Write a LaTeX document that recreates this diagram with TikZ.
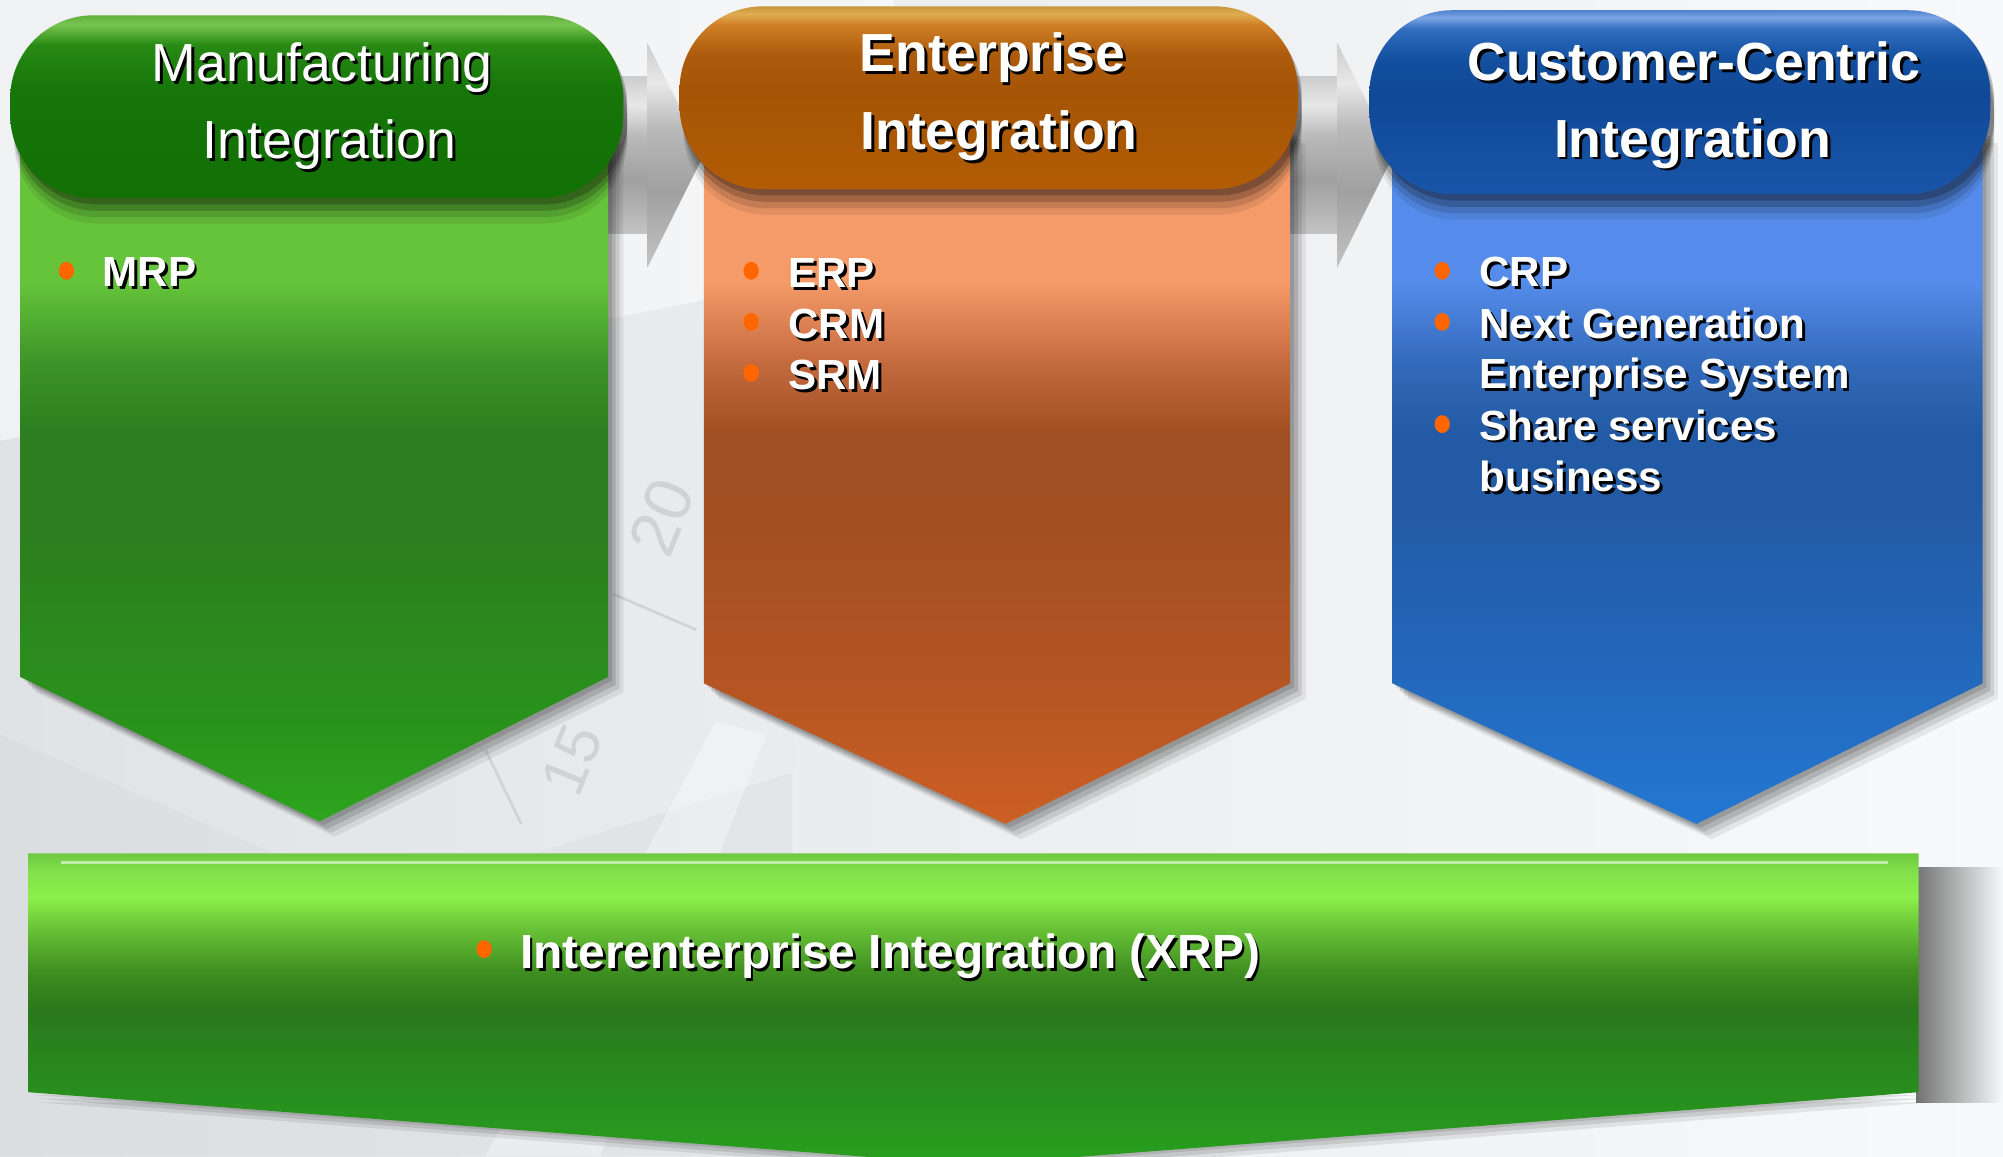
\documentclass[tikz,border=0pt]{standalone}
\usepackage{fontspec}
\setmainfont{Liberation Sans}
\usetikzlibrary{shapes.geometric}
% colours
\definecolor{bul}{RGB}{255,102,0}
\definecolor{gpA}{RGB}{18,112,5}\definecolor{gpB}{RGB}{22,118,8}\definecolor{gpC}{RGB}{40,138,20}\definecolor{gpD}{RGB}{120,198,80}\definecolor{gpE}{RGB}{95,175,60}
\definecolor{gbA}{RGB}{45,165,30}\definecolor{gbB}{RGB}{42,148,28}\definecolor{gbC}{RGB}{44,126,30}\definecolor{gbD}{RGB}{60,148,40}\definecolor{gbE}{RGB}{102,196,58}\definecolor{gbF}{RGB}{85,175,48}
\definecolor{opA}{RGB}{178,92,5}\definecolor{opB}{RGB}{165,85,5}\definecolor{opC}{RGB}{172,92,12}\definecolor{opD}{RGB}{208,128,38}\definecolor{opE}{RGB}{224,172,82}\definecolor{opF}{RGB}{200,150,60}
\definecolor{obA}{RGB}{205,95,35}\definecolor{obB}{RGB}{180,85,35}\definecolor{obC}{RGB}{160,78,35}\definecolor{obD}{RGB}{195,105,62}\definecolor{obE}{RGB}{245,155,105}\definecolor{obF}{RGB}{225,135,85}
\definecolor{bpA}{RGB}{25,85,168}\definecolor{bpB}{RGB}{15,72,150}\definecolor{bpC}{RGB}{20,80,160}\definecolor{bpD}{RGB}{50,110,192}\definecolor{bpE}{RGB}{125,165,228}\definecolor{bpF}{RGB}{80,130,205}
\definecolor{bbA}{RGB}{35,120,210}\definecolor{bbB}{RGB}{35,105,190}\definecolor{bbC}{RGB}{35,90,165}\definecolor{bbD}{RGB}{50,106,186}\definecolor{bbE}{RGB}{85,140,235}\definecolor{bbF}{RGB}{70,125,220}
\definecolor{xbA}{RGB}{40,160,30}\definecolor{xbB}{RGB}{40,140,30}\definecolor{xbC}{RGB}{42,120,28}\definecolor{xbD}{RGB}{62,142,32}\definecolor{xbE}{RGB}{105,195,55}\definecolor{xbF}{RGB}{140,240,75}\definecolor{xbG}{RGB}{130,225,75}\definecolor{xbH}{RGB}{110,200,65}
\definecolor{arA}{RGB}{195,195,195}\definecolor{arB}{RGB}{160,160,160}\definecolor{arC}{RGB}{185,185,185}\definecolor{arD}{RGB}{232,232,232}\definecolor{arE}{RGB}{205,205,205}
\definecolor{bgA}{RGB}{224,227,230}\definecolor{bgB}{RGB}{248,249,250}\definecolor{faint}{RGB}{208,210,214}
% shadings (path bbox maps to 25bp..75bp)
\pgfdeclareverticalshading{gpill}{100bp}{color(0bp)=(gpA); color(25bp)=(gpA); color(55bp)=(gpB); color(67bp)=(gpC); color(72.5bp)=(gpD); color(75bp)=(gpE); color(100bp)=(gpE)}
\pgfdeclareverticalshading{gbody}{100bp}{color(0bp)=(gbA); color(25bp)=(gbA); color(31bp)=(gbB); color(46bp)=(gbC); color(53bp)=(gbC); color(58bp)=(gbD); color(64bp)=(gbE); color(72bp)=(gbE); color(75bp)=(gbF); color(100bp)=(gbF)}
\pgfdeclareverticalshading{opill}{100bp}{color(0bp)=(opA); color(25bp)=(opA); color(52bp)=(opB); color(62bp)=(opC); color(70bp)=(opD); color(73bp)=(opE); color(75bp)=(opF); color(100bp)=(opF)}
\pgfdeclareverticalshading{obody}{100bp}{color(0bp)=(obA); color(25bp)=(obA); color(35bp)=(obB); color(49bp)=(obC); color(53bp)=(obC); color(58bp)=(obD); color(64bp)=(obE); color(72bp)=(obE); color(75bp)=(obF); color(100bp)=(obF)}
\pgfdeclareverticalshading{bpill}{100bp}{color(0bp)=(bpA); color(25bp)=(bpA); color(52bp)=(bpB); color(62bp)=(bpC); color(70bp)=(bpD); color(73bp)=(bpE); color(75bp)=(bpF); color(100bp)=(bpF)}
\pgfdeclareverticalshading{bbody}{100bp}{color(0bp)=(bbA); color(25bp)=(bbA); color(35bp)=(bbB); color(48bp)=(bbC); color(53bp)=(bbC); color(58bp)=(bbD); color(64bp)=(bbE); color(72bp)=(bbE); color(75bp)=(bbF); color(100bp)=(bbF)}
\pgfdeclareverticalshading{xband}{100bp}{color(0bp)=(xbA); color(25bp)=(xbA); color(38bp)=(xbB); color(50bp)=(xbC); color(56bp)=(xbD); color(63bp)=(xbE); color(68bp)=(xbF); color(72bp)=(xbG); color(75bp)=(xbH); color(100bp)=(xbH)}
\pgfdeclareverticalshading{arrsh}{100bp}{color(0bp)=(arA); color(25bp)=(arA); color(42bp)=(arB); color(56bp)=(arC); color(66bp)=(arD); color(75bp)=(arE); color(100bp)=(arE)}
% pentagon body: x1, x2, yside, tipx, tipy, shading
\newcommand\pent[6]{%
  \foreach \d/\o in {12/0.07,9/0.10,6/0.13,3/0.13}{%
    \fill[black,opacity=\o] (#1+\d,805-\d) -- (#2+\d,805-\d) -- (#2+\d,#3-\d) -- (#4+\d,#5-\d) -- (#1+\d,#3-\d) -- cycle;}
  \shade[shading=#6] (#1,805) -- (#2,805) -- (#2,#3) -- (#4,#5) -- (#1,#3) -- cycle;}
% pill header: x1, ybot, x2, ytop, shading
\newcommand\pill[5]{%
  \foreach \d/\o in {20/0.08,15/0.12,10/0.18,5/0.22}{%
    \fill[black,opacity=\o,rounded corners=65pt] (#1+3,#2-\d) rectangle (#3+3,#4-\d);}
  \shade[shading=#5,rounded corners=65pt] (#1,#2) rectangle (#3,#4);}
\newcommand\stext[4]{\node[#1,shd] (#2s) at (#3) {#4};\node[#1] (#2) at (#3) {#4};}
\begin{document}
\begin{tikzpicture}[x=1pt,y=1pt,
  hdr/.style={text=white,inner sep=0pt,anchor=base,font=\fontsize{42}{42}\selectfont\bfseries},
  hdrreg/.style={text=white,inner sep=0pt,anchor=base,font=\fontsize{42}{42}\selectfont},
  item/.style={text=white,inner sep=0pt,anchor=base west,font=\fontsize{33}{33}\selectfont\bfseries},
  bigitem/.style={text=white,inner sep=0pt,anchor=base west,font=\fontsize{37.5}{37.5}\selectfont\bfseries},
  shd/.style={text=black,xshift=2.2pt,yshift=-2.2pt},
  dot/.style={ellipse,fill=bul,inner sep=0pt,minimum width=12pt,minimum height=14pt},
  arrow shaft/.style={shading=arrsh}]
\useasboundingbox (0,0) rectangle (1568,905);
\clip (0,0) rectangle (1568,905);
% background
\shade[left color=bgA,right color=bgB] (0,0) rectangle (1568,905);
\fill[white,opacity=0.5] (0,905) -- (700,905) -- (700,700) -- (0,560) -- cycle;
\fill[faint,opacity=0.25] (0,330) -- (300,200) -- (620,300) -- (620,0) -- (0,0) -- cycle;
\fill[white,opacity=0.35] (380,0) -- (470,0) -- (600,330) -- (560,340) -- cycle;
\draw[faint,line width=2pt] (480,440) -- (545,412);
\draw[faint,line width=2pt] (380,318) -- (408,260);
\node[faint,rotate=68,font=\fontsize{52}{52}\selectfont] (n20) at (518,500) {20};
\node[faint,rotate=68,font=\fontsize{48}{48}\selectfont] (n15) at (448,310) {15};
% grey arrows
\shade[arrow shaft] (468,722) rectangle (508,845);
\shade[arrow shaft] (507,871) -- (551,784) -- (507,696) -- cycle;
\shade[arrow shaft] (1005,722) rectangle (1048,845);
\shade[arrow shaft] (1047,871) -- (1091,784) -- (1047,696) -- cycle;
% column bodies
\pent{16}{476}{375}{250}{262}{gbody}
\pent{551}{1010}{370}{787}{260}{obody}
\pent{1090}{1552}{370}{1328}{260}{bbody}
% header pills
\pill{8}{750}{488}{893}{gpill}
\pill{532}{757}{1016}{900}{opill}
\pill{1072}{753}{1558}{897}{bpill}
% header texts
\stext{hdrreg}{h1a}{252,841}{Manufacturing}
\stext{hdrreg}{h1b}{258,781}{Integration}
\stext{hdr}{h2a}{777,849}{Enterprise}
\stext{hdr}{h2b}{782,788}{Integration}
\stext{hdr}{h3a}{1326,842}{Customer-Centric}
\stext{hdr}{h3b}{1325,782}{Integration}
% bullets column 1
\node[dot] (d1) at (52,693) {};
\stext{item}{mrp}{80,680.5}{MRP}
% bullets column 2
\node[dot] (d2) at (588,693) {};
\node[dot] (d3) at (588,653) {};
\node[dot] (d4) at (588,613) {};
\stext{item}{erp}{617,680}{ERP}
\stext{item}{crm}{617,640}{CRM}
\stext{item}{srm}{617,600}{SRM}
% bullets column 3
\node[dot] (d5) at (1129,693) {};
\node[dot] (d6) at (1129,653) {};
\node[dot] (d7) at (1129,573) {};
\stext{item}{crp}{1158,680.5}{CRP}
\stext{item}{ngA}{1158,640}{Next Generation}
\stext{item}{ngB}{1158,600.5}{Enterprise System}
\stext{item}{ssA}{1158,560.5}{Share services}
\stext{item}{ssB}{1158,520}{business}
% bottom band
\shade[left color=black!55,right color=bgB] (1500,42) rectangle (1568,226);
\foreach \d/\o in {8/0.08,5/0.1,2/0.1}{\fill[black,opacity=\o] (22+\d,50-\d) -- (1502+\d,50-\d) -- (762+\d,-7-\d) -- cycle;}
\shade[shading=xband] (22,237) -- (1502,237) -- (1502,50) -- (762,-7) -- (22,50) -- cycle;
\draw[white,opacity=0.55,line width=2pt] (48,230) -- (1478,230);
\node[dot] (d8) at (379,162) {};
\stext{bigitem}{xrp}{407,146.5}{Interenterprise Integration (XRP)}
\end{tikzpicture}
\end{document}
